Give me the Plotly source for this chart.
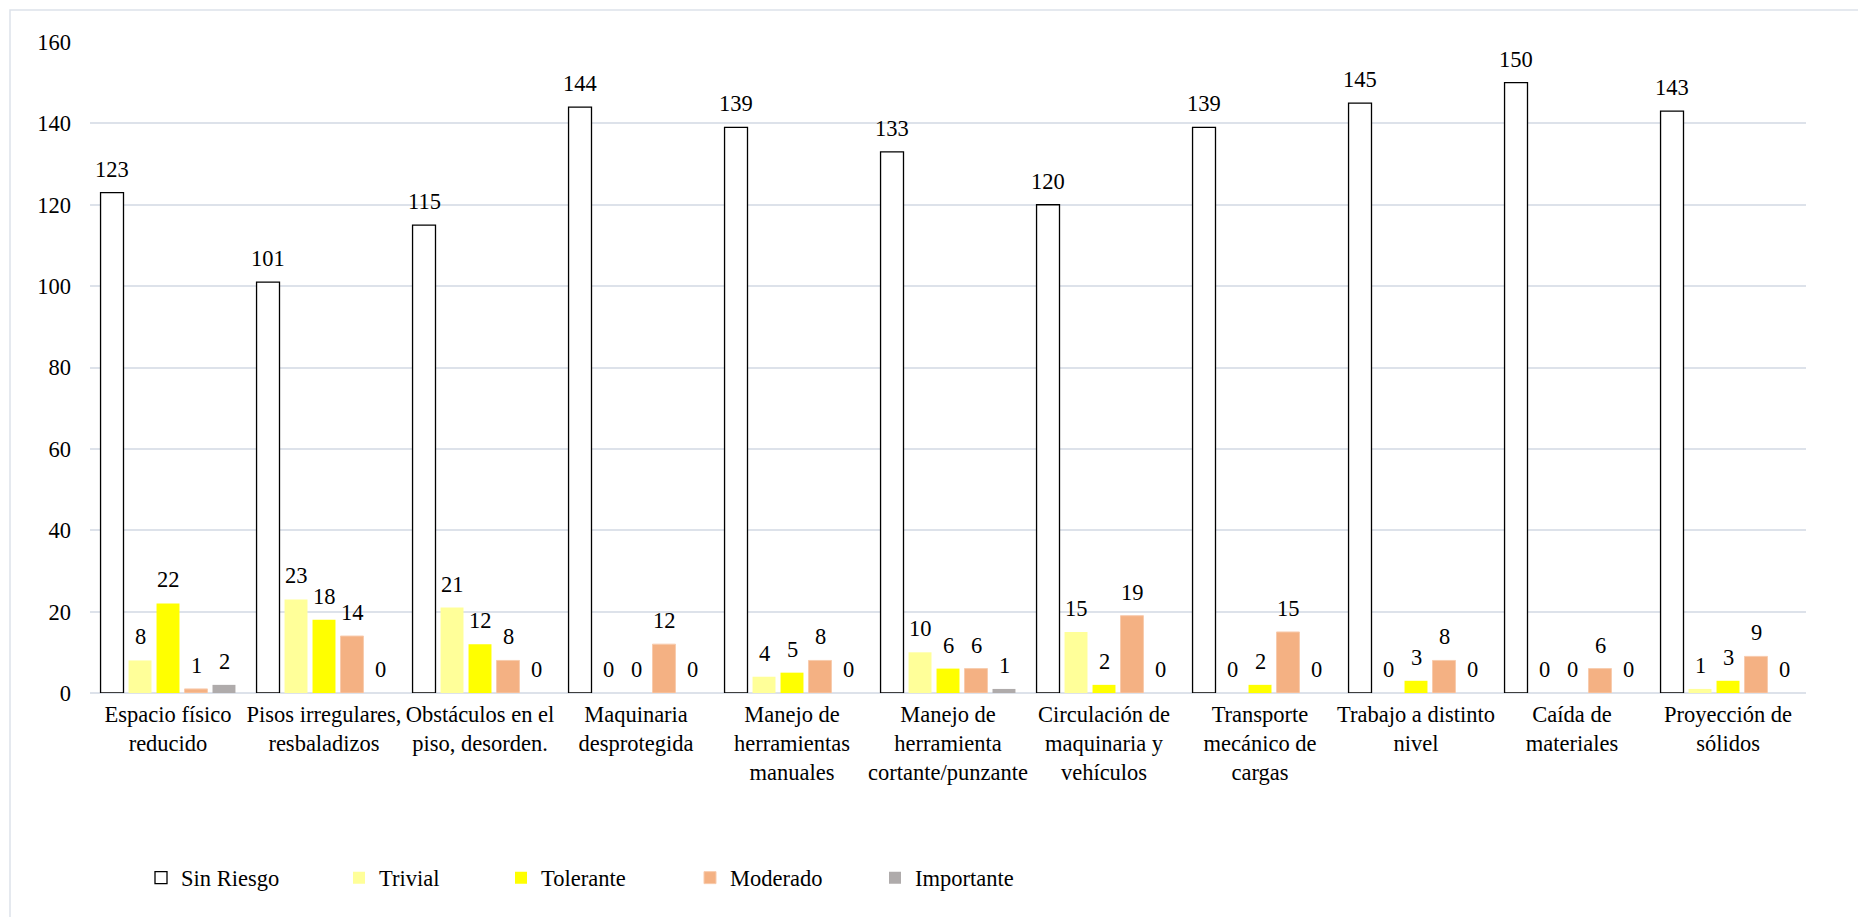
import plotly.graph_objects as go

# Risk categories (x axis)
categories = [
    "Espacio físico<br>reducido",
    "Pisos irregulares,<br>resbaladizos",
    "Obstáculos en el<br>piso, desorden.",
    "Maquinaria<br>desprotegida",
    "Manejo de<br>herramientas<br>manuales",
    "Manejo de<br>herramienta<br>cortante/punzante",
    "Circulación de<br>maquinaria y<br>vehículos",
    "Transporte<br>mecánico de<br>cargas",
    "Trabajo a distinto<br>nivel",
    "Caída de<br>materiales",
    "Proyección de<br>sólidos",
]

# Counts per risk level
sin_riesgo = [123, 101, 115, 144, 139, 133, 120, 139, 145, 150, 143]
trivial = [8, 23, 21, 0, 4, 10, 15, 0, 0, 0, 1]
tolerante = [22, 18, 12, 0, 5, 6, 2, 2, 3, 0, 3]
moderado = [1, 14, 8, 12, 8, 6, 19, 15, 8, 6, 9]
importante = [2, 0, 0, 0, 0, 1, 0, 0, 0, 0, 0]

y_ticks = [0, 20, 40, 60, 80, 100, 120, 140, 160]

FONT = "Liberation Serif, Times New Roman, serif"
FS = 22.5

W, H = 1858, 917
ML, MR, MT, MB = 90, 52, 42, 224
PW = W - ML - MR
PH = H - MT - MB
SLOT = 28  # pixel pitch between bars inside a group


def px_x(p):
    return (p - ML) / PW


def px_y(p):
    return (H - MB - p) / PH


series = [
    ("Sin Riesgo", sin_riesgo, "#FFFFFF", "#000000", 1.3),
    ("Trivial", trivial, "#FFFF99", "#FFFF99", 0),
    ("Tolerante", tolerante, "#FFFF00", "#FFFF00", 0),
    ("Moderado", moderado, "#F4B183", "#F8CBAD", 1),
    ("Importante", importante, "#AFABAB", "#AFABAB", 0),
]

# legend symbol centre positions (pixels)
legend_px = [165, 363, 525, 714, 899]

fig = go.Figure()
legend_layouts = {}
annotations = []
n = len(series)
for i, (name, vals, fill, line, lw) in enumerate(series):
    lg = "legend" if i == 0 else f"legend{i + 1}"
    fig.add_trace(go.Bar(
        name=name,
        x=categories,
        y=vals,
        marker=dict(color=fill, line=dict(color=line, width=lw)),
        legend=lg,
        showlegend=True,
    ))
    # value labels above each bar
    for cat, v in zip(categories, vals):
        annotations.append(dict(
            x=cat, y=v, xref="x", yref="y",
            text=str(v),
            showarrow=False,
            xanchor="center", yanchor="bottom",
            xshift=(i - (n - 1) / 2) * SLOT,
            yshift=9,
            font=dict(family=FONT, size=FS, color="#000000"),
        ))
    legend_layouts[lg] = dict(
        x=px_x(legend_px[i] - 24),
        xanchor="left",
        y=px_y(878),
        yanchor="middle",
        orientation="h",
        font=dict(family=FONT, size=FS, color="#000000"),
        bgcolor="rgba(0,0,0,0)",
        itemwidth=30,
    )

fig.update_layout(
    width=W,
    height=H,
    margin=dict(l=ML, r=MR, t=MT, b=MB),
    paper_bgcolor="#FFFFFF",
    plot_bgcolor="#FFFFFF",
    barmode="group",
    bargap=0.103,
    bargroupgap=0.18,
    showlegend=True,
    font=dict(family=FONT, size=FS, color="#000000"),
    annotations=annotations,
    xaxis=dict(
        showgrid=False,
        showline=False,
        ticks="",
        ticklabelstandoff=5,
        tickfont=dict(family=FONT, size=FS, color="#000000"),
        tickangle=0,
    ),
    yaxis=dict(
        range=[0, 160],
        tickvals=y_ticks,
        showgrid=True,
        gridcolor="#DDE2EA",
        gridwidth=1.5,
        zeroline=True,
        zerolinecolor="#DDE2EA",
        zerolinewidth=1.5,
        showline=False,
        ticks="",
        ticklabelstandoff=18,
        tickfont=dict(family=FONT, size=FS, color="#000000"),
    ),
    **legend_layouts,
)

# chart frame
fig.add_shape(
    type="rect",
    xref="paper", yref="paper",
    x0=px_x(10), x1=px_x(W + 20),
    y0=px_y(H + 20), y1=px_y(10),
    line=dict(color="#DDE2EA", width=1.5),
    fillcolor="rgba(0,0,0,0)",
    layer="below",
)

fig.write_html("out.html")
